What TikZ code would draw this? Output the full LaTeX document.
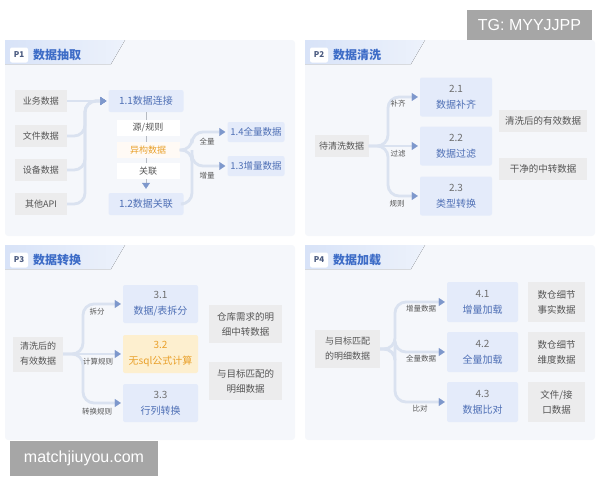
\documentclass[tikz,border=0pt]{standalone}
\usepackage{fontspec}
\setmainfont{Noto Sans CJK SC}
\newfontfamily\wmfont{Liberation Sans}
\usetikzlibrary{arrows.meta}
\definecolor{panelbg}{HTML}{F5F7FB}
\definecolor{hdleft}{HTML}{D8E3F8}
\definecolor{hdright}{HTML}{EDF2FB}
\definecolor{titleblue}{HTML}{3D6CC7}
\definecolor{tagtxt}{HTML}{4A5A80}
\definecolor{graybox}{HTML}{ECECED}
\definecolor{graytxt}{HTML}{555555}
\definecolor{bluebox}{HTML}{E4EBFA}
\definecolor{bluetxt}{HTML}{4E6FB5}
\definecolor{numtxt}{HTML}{6E6E6E}
\definecolor{orangebox}{HTML}{FDEFCF}
\definecolor{orangetxt}{HTML}{E9A02A}
\definecolor{connline}{HTML}{DAE2F0}
\definecolor{tricol}{HTML}{7E98CC}
\definecolor{wmgray}{HTML}{A6A6A6}
\begin{document}
\begin{tikzpicture}
[x=1pt,y=-1pt,
  panel/.style={fill=panelbg,rounded corners=3pt},
  tab/.style={left color=hdleft,right color=hdright},
  tagbox/.style={fill=white,text=tagtxt,rounded corners=2pt,inner sep=0pt,
    minimum width=18,minimum height=15,font=\bfseries\fontsize{8}{8}\selectfont},
  titletext/.style={anchor=west,text=titleblue,inner sep=0pt,font=\bfseries\fontsize{12}{12}\selectfont},
  srcbox/.style={fill=graybox,text=graytxt,inner sep=0pt,align=center,
    minimum width=52,minimum height=22,font=\fontsize{9}{15}\selectfont},
  resbox/.style={srcbox,font=\fontsize{9.5}{15}\selectfont},
  stepbox/.style={fill=bluebox,text=bluetxt,inner sep=0pt,align=center,rounded corners=2pt,
    minimum width=75,minimum height=22,font=\fontsize{10}{16}\selectfont},
  hotbox/.style={stepbox,fill=orangebox,text=orangetxt},
  midbox/.style={fill=white,text=graytxt,inner sep=0pt,minimum width=63,minimum height=16,
    font=\fontsize{9}{9}\selectfont},
  branchlabel/.style={text=graytxt,inner sep=1pt,font=\fontsize{7.5}{7.5}\selectfont},
  conn/.style={draw=connline,line width=2.8pt,rounded corners=11pt,shorten >=2pt,
    -{Triangle[width=8pt,length=6pt,color=tricol,line width=0.1pt]}},
  plainconn/.style={draw=connline,line width=2.8pt,rounded corners=11pt},
  wmbox/.style={fill=wmgray,text=white,inner sep=0pt,font=\wmfont\fontsize{16}{16}\selectfont}]
\useasboundingbox (0,0) rectangle (600,480);
% panels and headers
\fill[panel] (5,40) rectangle (295,236);
\fill[panel] (305,40) rectangle (595,236);
\fill[panel] (5,245) rectangle (295,440);
\fill[panel] (305,245) rectangle (595,440);
\fill[tab] (5,40) -- (125,40) -- (111,64) -- (5,64) -- cycle;
\fill[tab] (305,40) -- (425,40) -- (411,64) -- (305,64) -- cycle;
\fill[tab] (5,245) -- (125,245) -- (111,269) -- (5,269) -- cycle;
\fill[tab] (305,245) -- (425,245) -- (411,269) -- (305,269) -- cycle;
\node (tag1) at (19,55) [tagbox] {P1};
\node (title1) at (33,55) [titletext] {数据抽取};
\node (tag2) at (319,55) [tagbox] {P2};
\node (title2) at (333,55) [titletext] {数据清洗};
\node (tag3) at (19,260) [tagbox] {P3};
\node (title3) at (33,260) [titletext] {数据转换};
\node (tag4) at (319,260) [tagbox] {P4};
\node (title4) at (333,260) [titletext] {数据加载};
% P1 nodes
\node (yewu) at (41,101) [srcbox] {业务数据};
\node (wenjian) at (41,136) [srcbox] {文件数据};
\node (shebei) at (41,170) [srcbox] {设备数据};
\node (qita) at (41,204) [srcbox] {其他API};
\node (c11) at (146,101) [stepbox] {1.1数据连接};
\node (c12) at (146,204) [stepbox] {1.2数据关联};
\draw[connline!60!gray,thin,shorten >=4pt,
  -{Triangle[width=8pt,length=6pt,color=tricol]}] (c11.south) -- (c12.north);
\node (yuan) at (148,128) [midbox] {源/规则};
\node (yigou) at (148,150) [midbox,fill=orange!4,text=orangetxt] {异构数据};
\node (guanlian) at (148,171) [midbox] {关联};
\node (c14) at (256,132) [stepbox,minimum width=57,minimum height=20,font=\fontsize{9.5}{10}\selectfont] {1.4全量数据};
\node (c13) at (256,166) [stepbox,minimum width=57,minimum height=20,font=\fontsize{9.5}{10}\selectfont] {1.3增量数据};
\coordinate (trunk1) at (85,101);
\coordinate (trunk1b) at (192,150);
% P1 edges
\draw[conn] (yewu.east) -- (c11.west);
\draw[conn] (wenjian.east) -| (trunk1) -- (c11.west);
\draw[conn] (shebei.east) -| (trunk1) -- (c11.west);
\draw[conn] (qita.east) -| (trunk1) -- (c11.west);
\draw[conn] (yigou.east) -- (trunk1b) |- (c14.west);
\draw[conn] (yigou.east) -- (trunk1b) |- (c13.west);
\draw[plainconn] (c12.east) -| (trunk1b);
\node (lquan) at (207,142) [branchlabel] {全量};
\node (lzeng) at (207,176) [branchlabel] {增量};
% P2 nodes
\node (dai) at (341.5,146) [srcbox,minimum width=54] {待清洗数据};
\node (c21) at (456,97) [stepbox,minimum width=72,minimum height=39] {{\color{numtxt}2.1}\\数据补齐};
\node (c22) at (456,146) [stepbox,minimum width=72,minimum height=39] {{\color{numtxt}2.2}\\数据过滤};
\node (c23) at (456,196) [stepbox,minimum width=72,minimum height=39] {{\color{numtxt}2.3}\\类型转换};
\node (r21) at (543,121) [resbox,minimum width=88] {清洗后的有效数据};
\node (r22) at (543,169) [resbox,minimum width=88] {干净的中转数据};
\coordinate (trunk2) at (388,146);
% P2 edges
\draw[conn] (dai.east) -- (trunk2) |- (c21.west);
\draw[conn] (dai.east) -- (c22.west);
\draw[conn] (dai.east) -- (trunk2) |- (c23.west);
\node (lbuqi) at (398,104) [branchlabel] {补齐};
\node (lguolv) at (398,154) [branchlabel] {过滤};
\node (lguize) at (397,204) [branchlabel] {规则};
% P3 nodes
\node (youxiao) at (38,354) [srcbox,minimum width=50,minimum height=35] {清洗后的\\有效数据};
\node (c31) at (160.5,304) [stepbox,minimum height=38] {{\color{numtxt}3.1}\\数据/表拆分};
\node (c32) at (160.5,354) [hotbox,minimum height=38] {3.2\\无sql公式计算};
\node (c33) at (160.5,403) [stepbox,minimum height=38] {{\color{numtxt}3.3}\\行列转换};
\node (r31) at (245.5,324) [resbox,minimum width=73,minimum height=38] {仓库需求的明\\细中转数据};
\node (r32) at (245.5,381) [resbox,minimum width=73,minimum height=38] {与目标匹配的\\明细数据};
\coordinate (trunk3) at (83,354);
% P3 edges
\draw[conn] (youxiao.east) -- (trunk3) |- (c31.west);
\draw[conn] (youxiao.east) -- (c32.west);
\draw[conn] (youxiao.east) -- (trunk3) |- (c33.west);
\node (lchaifen) at (97,312) [branchlabel] {拆分};
\node (ljisuan) at (98,362) [branchlabel] {计算规则};
\node (lzhuanhuan) at (97,412) [branchlabel] {转换规则};
% P4 nodes
\node (pipei) at (347.5,349) [srcbox,minimum width=65,minimum height=38] {与目标匹配\\的明细数据};
\node (c41) at (482.5,302) [stepbox,minimum width=71,minimum height=40] {{\color{numtxt}4.1}\\增量加载};
\node (c42) at (482.5,352) [stepbox,minimum width=71,minimum height=40] {{\color{numtxt}4.2}\\全量加载};
\node (c43) at (482.5,402) [stepbox,minimum width=71,minimum height=40] {{\color{numtxt}4.3}\\数据比对};
\node (r41) at (556.5,302) [resbox,minimum width=57,minimum height=40] {数仓细节\\事实数据};
\node (r42) at (556.5,352) [resbox,minimum width=57,minimum height=40] {数仓细节\\维度数据};
\node (r43) at (556.5,402) [resbox,minimum width=57,minimum height=40] {文件/接\\口数据};
\coordinate (trunk4) at (395,349);
% P4 edges
\draw[conn] (pipei.east) -- (trunk4) |- (c41.west);
\draw[conn] (pipei.east) -- (trunk4) |- (c42.west);
\draw[conn] (pipei.east) -- (trunk4) |- (c43.west);
\node (lzengliang) at (421,309) [branchlabel] {增量数据};
\node (lquanliang) at (421,359) [branchlabel] {全量数据};
\node (lbidui) at (420,409) [branchlabel] {比对};
% watermarks
\node (tg) at (529.5,25) [wmbox,minimum width=125,minimum height=30] {TG: MYYJJPP};
\node (site) at (84,458.5) [wmbox,minimum width=148,minimum height=35] {matchjiuyou.com};
\end{tikzpicture}
\end{document}
